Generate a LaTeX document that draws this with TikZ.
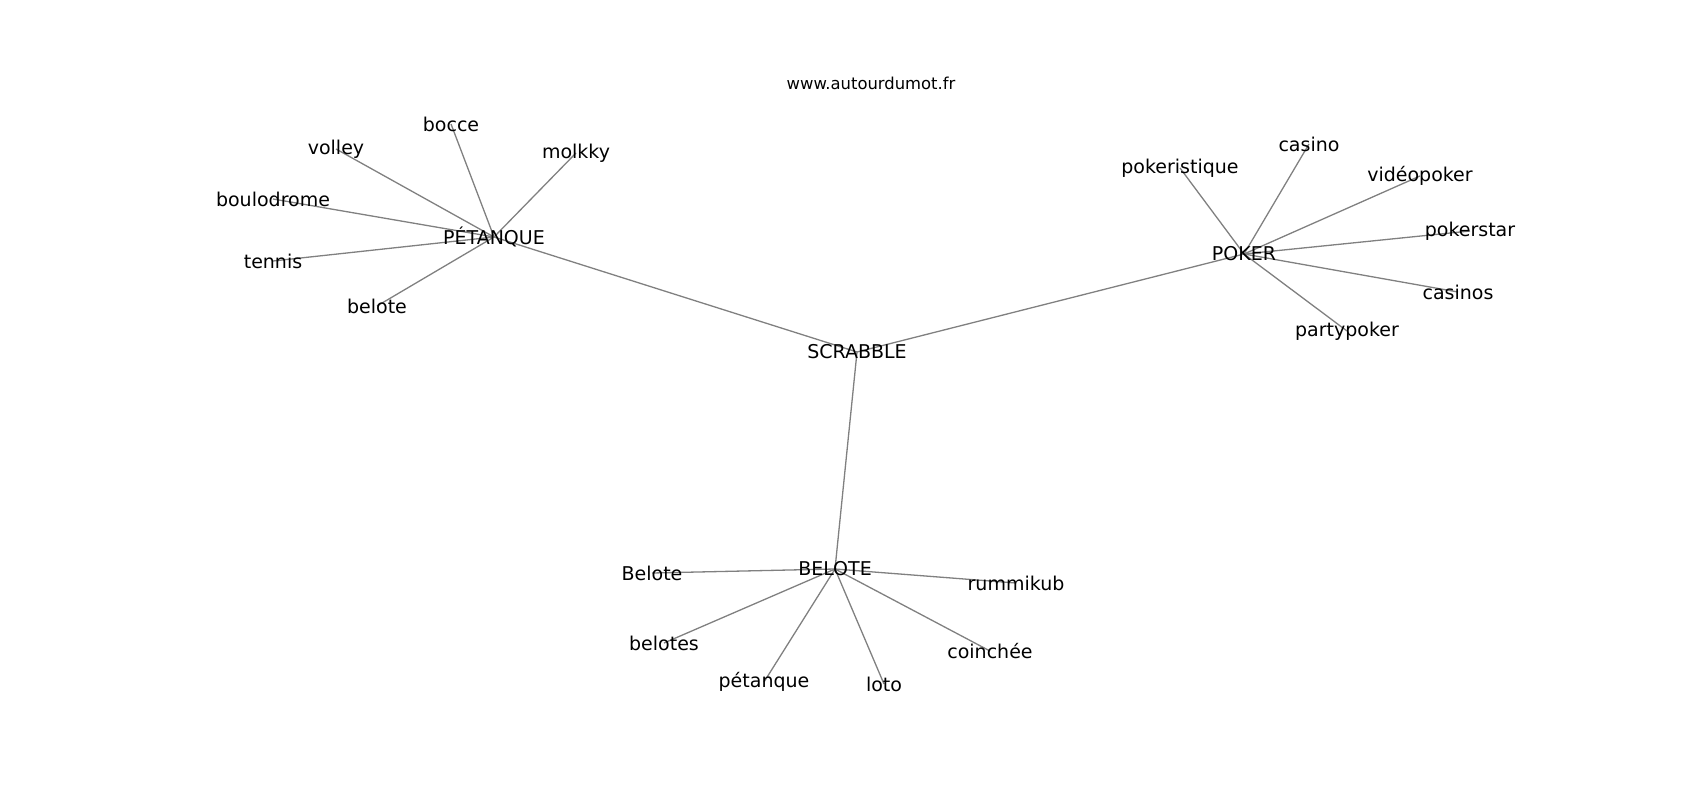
\documentclass[tikz,border=0pt]{standalone}
\usepackage{fontspec}
\setmainfont{DejaVu Sans}
\usetikzlibrary{backgrounds}
\tikzset{
  x=1pt, y=-1pt,
  word/.style={inner sep=0pt, font=\fontsize{19}{19}\selectfont},
  site/.style={inner sep=0pt, font=\fontsize{16.4}{16.4}\selectfont},
  link/.style={draw=gray, line width=1.3pt},
}

\begin{document}
\begin{tikzpicture}
  \useasboundingbox (0,0) rectangle (1700,800);
  \node[site] (url) at (871,83) {www.autourdumot.fr};

  % hubs
  \node[word] (scrabble) at (857,352) {SCRABBLE};
  \node[word] (petanque) at (494,237) {PÉTANQUE};
  \node[word] (poker) at (1244,254) {POKER};
  \node[word] (belote) at (835,569) {BELOTE};

  % words round PETANQUE
  \node[word] (bocce) at (451,124) {bocce};
  \node[word] (volley) at (336,149) {volley};
  \node[word] (molkky) at (576,153) {molkky};
  \node[word] (boulodrome) at (273,199) {boulodrome};
  \node[word] (tennis) at (273,261) {tennis};
  \node[word] (beloteP) at (377,306) {belote};

  % words round POKER
  \node[word] (pokeristique) at (1180,168) {pokeristique};
  \node[word] (casino) at (1309,144) {casino};
  \node[word] (videopoker) at (1420,176) {vidéopoker};
  \node[word] (pokerstar) at (1470,231) {pokerstar};
  \node[word] (casinos) at (1458,292) {casinos};
  \node[word] (partypoker) at (1347,331) {partypoker};

  % words round BELOTE
  \node[word] (Belote) at (652,573) {Belote};
  \node[word] (rummikub) at (1016,583) {rummikub};
  \node[word] (belotes) at (664,643) {belotes};
  \node[word] (petanqueB) at (764,682) {pétanque};
  \node[word] (loto) at (884,684) {loto};
  \node[word] (coinchee) at (990,651) {coinchée};

  % links
  \begin{scope}[on background layer]
    \draw[link] (scrabble.center) edge (petanque.center)
      (scrabble.center) edge (poker.center)
      (scrabble.center) edge (belote.center)
      (petanque.center) edge (bocce.center)
      (petanque.center) edge (volley.center)
      (petanque.center) edge (molkky.center)
      (petanque.center) edge (boulodrome.center)
      (petanque.center) edge (tennis.center)
      (petanque.center) edge (beloteP.center)
      (poker.center) edge (pokeristique.center)
      (poker.center) edge (casino.center)
      (poker.center) edge (videopoker.center)
      (poker.center) edge (pokerstar.center)
      (poker.center) edge (casinos.center)
      (poker.center) edge (partypoker.center)
      (belote.center) edge (Belote.center)
      (belote.center) edge (rummikub.center)
      (belote.center) edge (belotes.center)
      (belote.center) edge (petanqueB.center)
      (belote.center) edge (loto.center)
      (belote.center) edge (coinchee.center);
  \end{scope}
\end{tikzpicture}
\end{document}
